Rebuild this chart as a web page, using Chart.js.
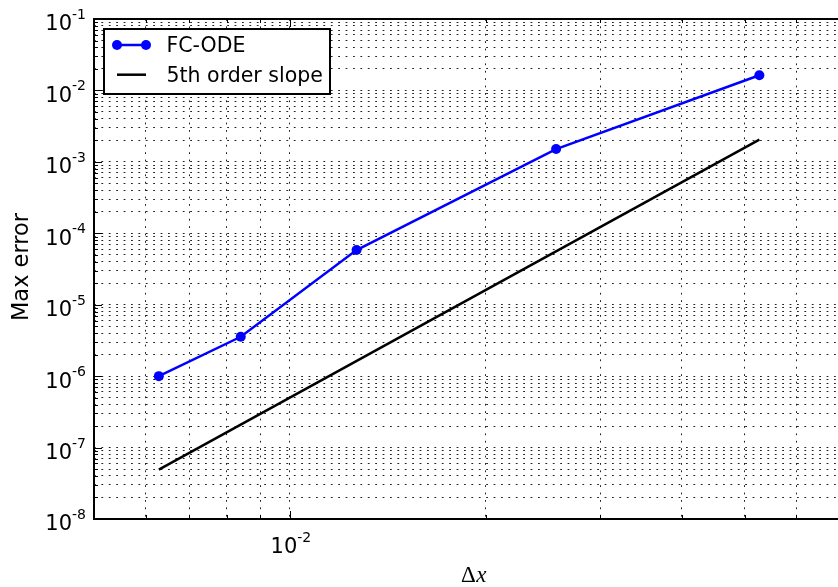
<!DOCTYPE html>
<html>
<head>
<meta charset="utf-8">
<title>FC-ODE convergence</title>
<script src="https://cdn.jsdelivr.net/npm/chart.js@4/dist/chart.umd.min.js"></script>
<style>
  html, body { margin: 0; padding: 0; background: #fff; overflow: hidden; }
  canvas { display: block; }
</style>
</head>
<body>
<canvas id="errChart" width="858" height="587"></canvas>
<script>
// Grid spacing and max error for the FC-ODE solver
const dx = [0.006289, 0.008403, 0.012658, 0.025641, 0.052632];
const maxErr = [1.0e-6, 3.56e-6, 5.83e-5, 1.51e-3, 1.63e-2];

// Reference line with 5th order slope
const slopeDx = [0.006289, 0.052632];
const slopeErr = [4.9e-8, 2.05e-3];

const seriesNames = ['FC-ODE', '5th order slope'];

// Axis ranges and labelled decades
const xRange = [0.005, 0.0733];
const yRange = [1e-8, 1e-1];
const xLabelExps = [-2];
const yLabelExps = [-8, -7, -6, -5, -4, -3, -2, -1];

const TICK_FONT = '21px "DejaVu Sans"';
const SUP_FONT = '14px "DejaVu Sans"';
const LEGEND_FONT = '20.5px "DejaVu Sans"';

const toPoints = (xs, ys) => xs.map((x, i) => ({ x, y: ys[i] }));

// 1..9 x 10^n ticks across the axis range
function logTicks(scale) {
  const ticks = [];
  const lo = Math.floor(Math.log10(scale.min));
  const hi = Math.ceil(Math.log10(scale.max));
  for (let e = lo; e <= hi; e++) {
    for (let m = 1; m <= 9; m++) {
      const v = m * Math.pow(10, e);
      if (v >= scale.min * 0.9999 && v <= scale.max * 1.0001) ticks.push({ value: v, major: m === 1 });
    }
  }
  scale.ticks = ticks;
}

// "10" with a raised exponent
function drawPow(ctx, exp, x, baseY, supY, align) {
  const sup = '-' + Math.abs(exp);
  ctx.font = TICK_FONT;
  const wb = ctx.measureText('10').width;
  ctx.font = SUP_FONT;
  const ws = ctx.measureText(sup).width;
  const total = wb + ws;
  const left = align === 'right' ? x - total : x - total / 2;
  ctx.textAlign = 'left';
  ctx.textBaseline = 'alphabetic';
  ctx.font = TICK_FONT;
  ctx.fillText('10', left, baseY);
  ctx.font = SUP_FONT;
  ctx.fillText(sup, left + wb, supY);
}

const decorations = {
  id: 'decorations',
  afterDatasetsDraw(chart) {
    const { ctx, chartArea: a, scales: { x, y } } = chart;
    ctx.save();
    ctx.strokeStyle = '#000';
    ctx.fillStyle = '#000';

    // inward ticks on all four sides
    ctx.lineWidth = 1;
    ctx.beginPath();
    x.ticks.forEach(t => {
      const px = Math.round(x.getPixelForValue(t.value)) + 0.5;
      const len = t.major ? 8 : 4;
      ctx.moveTo(px, a.bottom); ctx.lineTo(px, a.bottom - len);
      ctx.moveTo(px, a.top); ctx.lineTo(px, a.top + len);
    });
    y.ticks.forEach(t => {
      const py = Math.round(y.getPixelForValue(t.value)) + 0.5;
      const len = t.major ? 8 : 4;
      ctx.moveTo(a.left, py); ctx.lineTo(a.left + len, py);
      ctx.moveTo(a.right, py); ctx.lineTo(a.right - len, py);
    });
    ctx.stroke();

    // frame
    ctx.lineWidth = 2;
    ctx.strokeRect(a.left, a.top, a.right - a.left, a.bottom - a.top);

    // tick labels
    yLabelExps.forEach(e => {
      const py = y.getPixelForValue(Math.pow(10, e));
      drawPow(ctx, e, 86, py + 11.4, py, 'right');
    });
    xLabelExps.forEach(e => {
      const px = x.getPixelForValue(Math.pow(10, e));
      drawPow(ctx, e, px + 1, a.bottom + 34.3, a.bottom + 22.9, 'center');
    });

    // axis titles
    ctx.save();
    ctx.translate(22, (a.top + a.bottom) / 2 - 2);
    ctx.rotate(-Math.PI / 2);
    ctx.font = '22.5px "DejaVu Sans"';
    ctx.textAlign = 'center';
    ctx.textBaseline = 'middle';
    ctx.fillText('Max error', 0, 0);
    ctx.restore();

    ctx.font = '23px "Liberation Serif"';
    const wd = ctx.measureText('\u0394').width;
    ctx.font = 'italic 23px "Liberation Serif"';
    const wx = ctx.measureText('x').width;
    const cx = (a.left + a.right) / 2;
    const startX = cx - (wd + wx) / 2;
    ctx.textAlign = 'left';
    ctx.textBaseline = 'alphabetic';
    ctx.font = '23px "Liberation Serif"';
    ctx.fillText('\u0394', startX, 582);
    ctx.font = 'italic 23px "Liberation Serif"';
    ctx.fillText('x', startX + wd + 0.5, 582);

    // legend box
    const box = { x: 104, y: 29, w: 226, h: 65 };
    ctx.fillStyle = '#fff';
    ctx.fillRect(box.x, box.y, box.w, box.h);
    ctx.lineWidth = 2;
    ctx.strokeStyle = '#000';
    ctx.strokeRect(box.x, box.y, box.w, box.h);

    const rows = [45, 74.7];
    chart.data.datasets.forEach((ds, i) => {
      const ly = rows[i];
      ctx.strokeStyle = ds.borderColor;
      ctx.lineWidth = ds.borderWidth;
      ctx.beginPath();
      ctx.moveTo(117, ly); ctx.lineTo(146, ly);
      ctx.stroke();
      if (ds.pointRadius > 0) {
        ctx.fillStyle = ds.pointBackgroundColor;
        [117, 146].forEach(mx => {
          ctx.beginPath();
          ctx.arc(mx, ly, ds.pointRadius, 0, Math.PI * 2);
          ctx.fill();
        });
      }
      ctx.fillStyle = '#000';
      ctx.font = LEGEND_FONT;
      ctx.textAlign = 'left';
      ctx.textBaseline = 'middle';
      ctx.fillText(ds.label, 166.5, ly + 1.5);
    });

    ctx.restore();
  }
};

const gridOpts = { color: '#222', lineWidth: 1, drawTicks: false };
const borderOpts = { display: false, dash: [1.8, 5.6] };

new Chart(document.getElementById('errChart'), {
  type: 'line',
  data: {
    datasets: [
      {
        label: seriesNames[0],
        data: toPoints(dx, maxErr),
        borderColor: '#0000ff',
        backgroundColor: '#0000ff',
        pointBackgroundColor: '#0000ff',
        pointBorderWidth: 0,
        pointRadius: 5,
        borderWidth: 2.5,
        tension: 0
      },
      {
        label: seriesNames[1],
        data: toPoints(slopeDx, slopeErr),
        borderColor: '#000000',
        backgroundColor: '#000000',
        pointRadius: 0,
        borderWidth: 2.5,
        tension: 0
      }
    ]
  },
  options: {
    responsive: false,
    animation: false,
    layout: { padding: { left: 94, top: 19, right: 0, bottom: 68 } },
    plugins: { legend: { display: false }, tooltip: { enabled: false } },
    scales: {
      x: {
        type: 'logarithmic',
        min: xRange[0], max: xRange[1],
        afterBuildTicks: logTicks,
        ticks: { display: false },
        grid: gridOpts,
        border: borderOpts
      },
      y: {
        type: 'logarithmic',
        min: yRange[0], max: yRange[1],
        afterBuildTicks: logTicks,
        ticks: { display: false },
        grid: gridOpts,
        border: borderOpts
      }
    }
  },
  plugins: [decorations]
});
</script>
</body>
</html>
